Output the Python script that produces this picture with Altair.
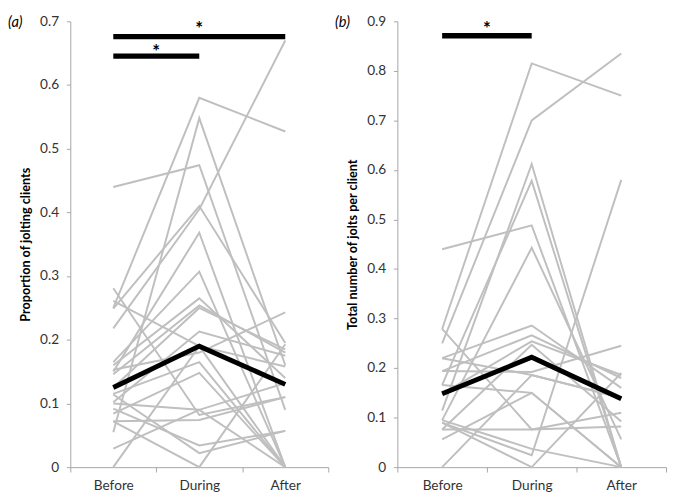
import altair as alt
import pandas as pd

phases = ["Before", "During", "After"]

# Panel (a): proportion of jolting clients (one entry per individual)
a_before = [0.44, 0.25, 0.055, 0.218, 0.249, 0.15, 0.281, 0.165, 0.16, 0.146, 0.125,
            0.102, 0.153, 0.115, 0.084, 0.072, 0.092, 0.114, 0.029, 0.0, 0.072, 0.261, 0.10]
a_during = [0.474, 0.58, 0.548, 0.405, 0.41, 0.368, 0.082, 0.307, 0.265, 0.254, 0.25,
            0.213, 0.18, 0.165, 0.148, 0.074, 0.034, 0.022, 0.09, 0.19, 0.0, 0.19, 0.09]
a_after = [0.09, 0.527, 0.16, 0.67, 0.195, 0.0, 0.11, 0.0, 0.14, 0.18, 0.185,
           0.175, 0.243, 0.0, 0.0, 0.11, 0.057, 0.057, 0.0, 0.0, 0.193, 0.158, 0.132]
a_mean = [0.125, 0.19, 0.13]

# Panel (b): total number of jolts per client
b_before = [0.44, 0.279, 0.25, 0.114, 0.166, 0.095, 0.09, 0.279, 0.22, 0.194, 0.148,
            0.076, 0.194, 0.22, 0.056, 0.076, 0.095, 0.0, 0.09, 0.166]
b_during = [0.488, 0.815, 0.70, 0.612, 0.578, 0.443, 0.024, 0.076, 0.286, 0.266, 0.254,
            0.247, 0.192, 0.186, 0.15, 0.076, 0.037, 0.186, 0.0, 0.15]
b_after = [0.0, 0.75, 0.835, 0.0, 0.0, 0.056, 0.58, 0.082, 0.16, 0.18, 0.186,
           0.092, 0.245, 0.14, 0.0, 0.11, 0.0, 0.14, 0.19, 0.0]
b_mean = [0.148, 0.222, 0.138]

# significance bars: (from, to, level) and asterisk labels
a_bars = [("Before", "During", 0.6455), ("Before", "After", 0.676)]
a_stars = [("Before", 0.5, 0.652), ("During", 0.0, 0.687)]
b_bars = [("Before", "During", 0.871)]
b_stars = [("Before", 0.5, 0.884)]

GRAY = "#bfbfbf"
FONT = "Lato"


def long_df(before, during, after):
    rows = []
    for i, vals in enumerate(zip(before, during, after)):
        for p, v in zip(phases, vals):
            rows.append({"id": i, "phase": p, "value": v})
    return pd.DataFrame(rows)


def panel(before, during, after, mean, bars, stars, ymax, ytitle, tag, width, height):
    xenc = alt.X(
        "phase:N", sort=phases, bandPosition=0.5,
        scale=alt.Scale(type="band", paddingInner=0, paddingOuter=0, domain=phases),
        axis=alt.Axis(title=None, tickBand="extent", labelAngle=0, tickSize=5,
                      labelPadding=7, domainColor="#a6a6a6", tickColor="#a6a6a6"),
    )
    ticks = [round(i * 0.1, 1) for i in range(int(round(ymax * 10)) + 1)]
    yenc = alt.Y(
        "value:Q", scale=alt.Scale(domain=[0, ymax], nice=False),
        axis=alt.Axis(title=ytitle, values=ticks, format=".1~f", tickSize=4,
                      labelPadding=8, titlePadding=7, titleFontWeight="bold",
                      titleFontSize=13, titleColor="#000000",
                      domainColor="#a6a6a6", tickColor="#a6a6a6"),
    )
    ind = alt.Chart(long_df(before, during, after)).mark_line(
        color=GRAY, strokeWidth=2
    ).encode(x=xenc, y=yenc, detail="id:N")

    mdf = pd.DataFrame({"phase": phases, "value": mean})
    mline = alt.Chart(mdf).mark_line(color="black", strokeWidth=5).encode(x=xenc, y=yenc)

    brows = []
    for k, (p0, p1, lvl) in enumerate(bars):
        brows.append({"bar": k, "phase": p0, "value": lvl})
        brows.append({"bar": k, "phase": p1, "value": lvl})
    bdf = pd.DataFrame(brows)
    blines = alt.Chart(bdf).mark_line(color="black", strokeWidth=5.5, strokeCap="butt").encode(
        x=xenc, y=yenc, detail="bar:N")

    band = width / 3.0
    layers = [ind, mline, blines]
    for p, frac, lvl in stars:
        sdf = pd.DataFrame({"phase": [p], "value": [lvl], "t": ["*"]})
        layers.append(
            alt.Chart(sdf).mark_text(fontSize=19, font=FONT, fontWeight="bold",
                                     dx=frac * band, baseline="middle", color="black")
            .encode(x=xenc, y=yenc, text="t:N"))

    tdf = pd.DataFrame({"t": [tag]})
    layers.append(
        alt.Chart(tdf).mark_text(fontSize=15, font=FONT, fontStyle="italic", align="left",
                                 baseline="middle", color="#000000")
        .encode(x=alt.value(-64), y=alt.value(1), text="t:N"))

    return alt.layer(*layers).properties(width=width, height=height)


left = panel(a_before, a_during, a_after, a_mean, a_bars, a_stars, 0.7,
             "Proportion of jolting clients", "(a)", 265, 458)
right = panel(b_before, b_during, b_after, b_mean, b_bars, b_stars, 0.9,
              "Total number of jolts per client", "(b)", 276, 458)

chart = alt.hconcat(left, right, spacing=6).properties(
    padding={"left": 0, "top": 0, "right": 0, "bottom": 0}
).configure_view(stroke=None).configure_axis(
    grid=False, labelFont=FONT, labelFontSize=14, labelColor="#333333", titleFont=FONT
)

chart.save("out.html", embed_options={"renderer": "svg", "actions": False})
